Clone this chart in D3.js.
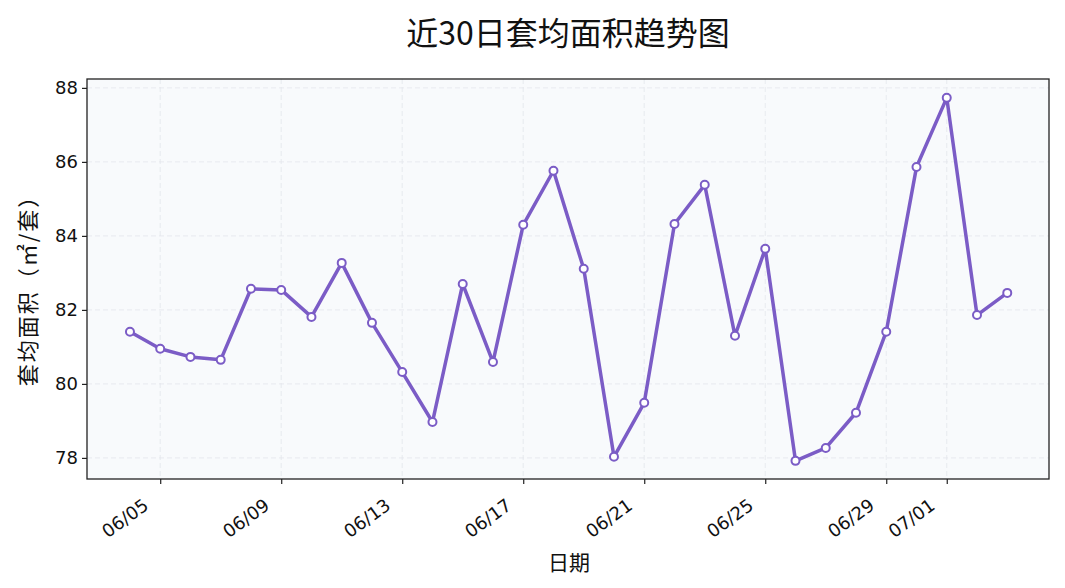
<!DOCTYPE html>
<html><head><meta charset="utf-8">
<script src="https://cdn.jsdelivr.net/npm/d3@7"></script>
<style>body{margin:0;background:#fff;}svg{display:block;font-family:"Noto Sans CJK SC","DejaVu Sans",sans-serif;}</style>
</head><body>
<svg id="c" width="1065" height="588"></svg>
<script>
const dates = ["06/04","06/05","06/06","06/07","06/08","06/09","06/10","06/11","06/12","06/13","06/14","06/15","06/16","06/17","06/18","06/19","06/20","06/21","06/22","06/23","06/24","06/25","06/26","06/27","06/28","06/29","06/30","07/01","07/02","07/03"];
const values = [81.41,80.95,80.73,80.65,82.57,82.54,81.81,83.27,81.65,80.32,78.97,82.70,80.59,84.30,85.76,83.11,78.03,79.49,84.32,85.38,81.30,83.65,77.92,78.27,79.22,81.41,85.86,87.73,81.86,82.46];
const xTickLabels = ["06/05","06/09","06/13","06/17","06/21","06/25","06/29","07/01"];
const yTicks = [78,80,82,84,86,88];

const svg = d3.select("#c");
const L=87,R=1049,T=79,B=479;
const x = d3.scaleLinear().domain([-1.42,30.38]).range([L,R]);
const y = d3.scaleLinear().domain([77.43,88.24]).range([B,T]);
const idx = d => dates.indexOf(d);

svg.append("rect").attr("x",L).attr("y",T).attr("width",R-L).attr("height",B-T).attr("fill","#f8fafc");
// grid
svg.append("g").selectAll("line").data(yTicks).join("line")
 .attr("x1",L).attr("x2",R).attr("y1",d=>y(d)).attr("y2",d=>y(d))
 .attr("stroke","#e3e6ec").attr("stroke-dasharray","5,3").attr("stroke-width",0.8);
svg.append("g").selectAll("line").data(xTickLabels).join("line")
 .attr("y1",T).attr("y2",B).attr("x1",d=>x(idx(d))).attr("x2",d=>x(idx(d)))
 .attr("stroke","#e3e6ec").attr("stroke-dasharray","5,3").attr("stroke-width",0.8);

// axes
const xa = svg.append("g").attr("transform",`translate(0,${B})`)
 .call(d3.axisBottom(x).tickValues(xTickLabels.map(idx)).tickFormat(i=>dates[i]).tickSize(5).tickSizeOuter(0));
xa.select(".domain").remove();
xa.selectAll("text").attr("font-size",18).attr("fill","#111").attr("font-family","'DejaVu Sans',sans-serif")
 .attr("text-anchor","end").attr("dy",0).attr("dx",0).attr("y",0)
 .attr("transform","translate(-11,29) rotate(-36)");
xa.selectAll("line").attr("stroke","#222").attr("stroke-width",1.2);

const ya = svg.append("g").attr("transform",`translate(${L},0)`)
 .call(d3.axisLeft(y).tickValues(yTicks).tickSize(5).tickSizeOuter(0));
ya.select(".domain").remove();
ya.selectAll("text").attr("font-size",18).attr("fill","#111").attr("font-family","'DejaVu Sans',sans-serif").attr("x",-9);
ya.selectAll("line").attr("stroke","#222").attr("stroke-width",1.2);

svg.append("rect").attr("x",L).attr("y",T).attr("width",R-L).attr("height",B-T)
 .attr("fill","none").attr("stroke","#222").attr("stroke-width",1.3);

// line
const line = d3.line().x((d,i)=>x(i)).y(d=>y(d));
svg.append("path").datum(values).attr("d",line).attr("fill","none")
 .attr("stroke","#7b5cc6").attr("stroke-width",3.5).attr("stroke-linejoin","round");
svg.append("g").selectAll("circle").data(values).join("circle")
 .attr("cx",(d,i)=>x(i)).attr("cy",d=>y(d)).attr("r",4)
 .attr("fill","#fff").attr("stroke","#7b5cc6").attr("stroke-width",2);

// labels
svg.append("text").attr("x",568).attr("y",45).attr("text-anchor","middle")
 .attr("font-size",32).attr("fill","#111").text("近30日套均面积趋势图");
svg.append("text").attr("x",569).attr("y",570).attr("text-anchor","middle")
 .attr("font-size",21).attr("fill","#111").text("日期");
svg.append("text").attr("transform",`translate(26,${(T+B)/2+6}) rotate(-90)`).attr("text-anchor","middle").attr("dominant-baseline","central")
 .attr("font-size",22).attr("letter-spacing",2).attr("fill","#111").text("套均面积（㎡/套）");
</script>
</body></html>
